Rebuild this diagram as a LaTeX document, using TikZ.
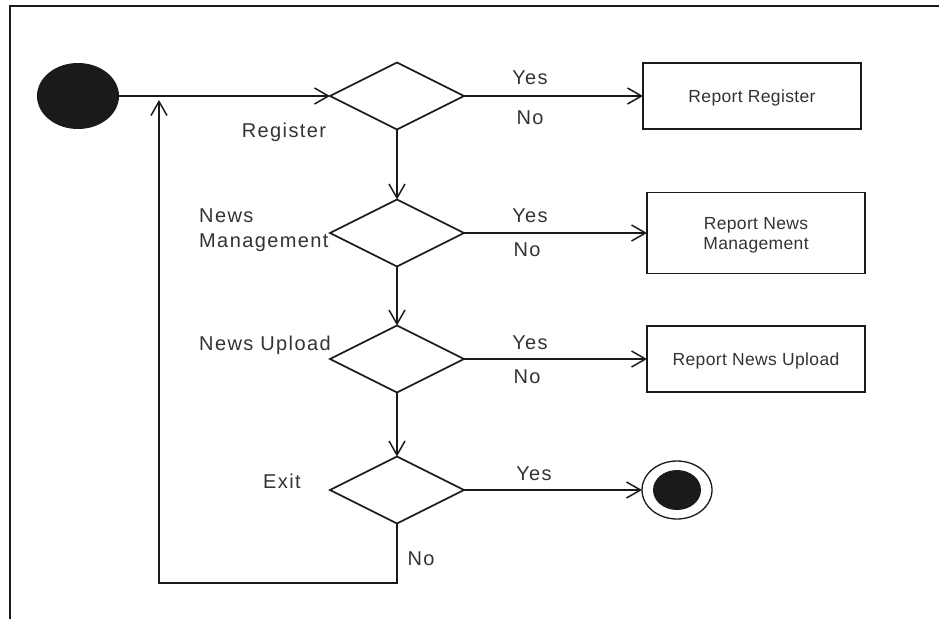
\documentclass[tikz,border=0pt]{standalone}
\usepackage{fontspec}
\setmainfont{Liberation Sans}
\newfontfamily\labelface[LetterSpace=7]{Liberation Sans}
\newfontfamily\boxface[LetterSpace=2]{Liberation Sans}
\usetikzlibrary{shapes.geometric,arrows.meta}
\definecolor{ink}{HTML}{1A1A1A}
\definecolor{txt}{HTML}{333333}

\begin{document}
\begin{tikzpicture}[x=1pt,y=-1pt,
  flow/.style={draw=ink, line width=1.6pt,
    -{Straight Barb[length=14pt,width=16pt,line width=1.5pt]}},
  decision/.style={diamond, draw=ink, line width=1.6pt,
    minimum width=134pt, minimum height=67pt, inner sep=0pt, outer sep=0pt},
  report/.style={rectangle, draw=ink, line width=1.6pt, minimum width=218pt,
    inner sep=0pt, outer sep=0pt, align=center, text=txt, text depth=0pt,
    font=\boxface\fontsize{17.5}{20}\selectfont},
  lbl/.style={text=txt, inner sep=0pt, anchor=base,
    font=\labelface\fontsize{20}{25}\selectfont},
  side/.style={lbl, anchor=base west},
]
\useasboundingbox (0,0) rectangle (939,619);

% frame edges
\draw[draw=ink, line width=1.6pt] (939,6) -- (10,6) -- (10,619);

% initial state
\node[ellipse, fill=ink, minimum width=82pt, minimum height=66pt,
      inner sep=0pt, outer sep=0pt] (start) at (78,96) {};

% decisions
\node[decision] (d1) at (397,96) {};
\node[decision] (d2) at (397,233) {};
\node[decision] (d3) at (397,359) {};
\node[decision] (d4) at (397,490) {};

% report boxes
\node[report, minimum height=66pt] (b1) at (752,96) {Report Register};
\node[report, minimum height=81pt] (b2) at (756,233) {Report News\\Management};
\node[report, minimum height=66pt] (b3) at (756,359) {Report News Upload};

% final state
\node[ellipse, draw=ink, line width=1.3pt, fill=white, minimum width=70pt,
      minimum height=58pt, inner sep=0pt, outer sep=0pt] (stop) at (677,490) {};
\node[ellipse, fill=ink, minimum width=48pt, minimum height=40pt,
      inner sep=0pt] (stopdot) at (stop.center) {};

% decision labels
\node[lbl] (t1) at (284,137) {Register};
\node[side] (t2a) at (199,222) {News};
\node[side] (t2b) at (199,247) {Management};
\node[side] (t3) at (199,350) {News Upload};
\node[lbl] (t4) at (282,488) {Exit};

% branch labels
\node[lbl] (y1) at (530,84) {Yes};
\node[lbl] (n1) at (530,124) {No};
\node[lbl] (y2) at (530,222) {Yes};
\node[lbl] (n2) at (527,256) {No};
\node[lbl] (y3) at (530,349) {Yes};
\node[lbl] (n3) at (527,383) {No};
\node[lbl] (y4) at (534,480) {Yes};
\node[lbl] (n4) at (421,565) {No};

% connectors
\draw[flow] (start) -- (d1);
\draw[flow] (d1) -- (b1);
\draw[flow] (d2) -- (b2);
\draw[flow] (d3) -- (b3);
\draw[flow] (d4) -- (stop);
\draw[flow] (d1) -- (d2);
\draw[flow] (d2) -- (d3);
\draw[flow] (d3) -- (d4);

% loop back from Exit to the start line
\coordinate (turn) at (159,583);
\coordinate (back) at (159,100);
\draw[flow] (d4.south) |- (turn) -- (back);
\end{tikzpicture}
\end{document}
